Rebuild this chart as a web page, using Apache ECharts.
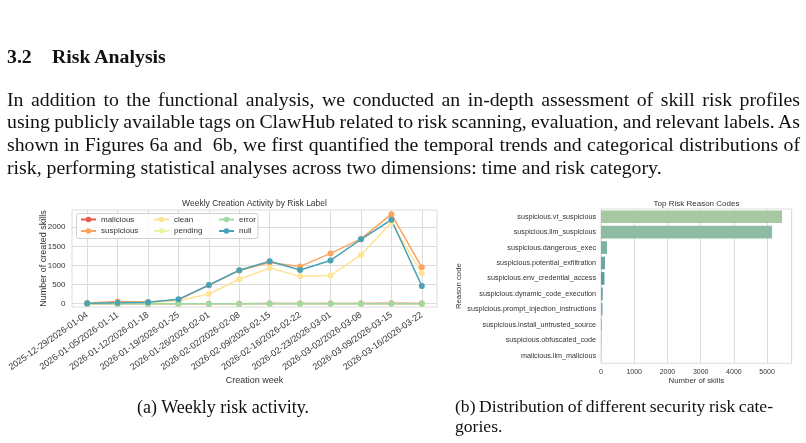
<!DOCTYPE html>
<html>
<head>
<meta charset="utf-8">
<title>Risk Analysis</title>
<script src="https://cdn.jsdelivr.net/npm/echarts@6/dist/echarts.min.js"></script>
<style>
	body{margin:0;background:#fff;}
	#page{position:relative;width:806px;height:443px;overflow:hidden;}
	#charts{position:absolute;left:0;top:0;width:806px;height:443px;}
	.serif{position:absolute;font-family:"Liberation Serif","Times New Roman",serif;color:#111;}
	.head{left:7px;top:45px;font-size:19.8px;font-weight:bold;}
	.head span{display:inline-block;width:45px;}
	.para{left:7px;top:87.5px;width:793px;font-size:19.8px;line-height:22.7px;}
	.para div{text-align:justify;text-align-last:justify;white-space:nowrap;word-spacing:-2.5px;}
	.para div.last{text-align-last:left;word-spacing:0;}
	.capA{left:137px;top:397px;font-size:18px;}
	.capB{left:455px;top:397px;width:318px;font-size:17.6px;line-height:19.5px;}
	.capB div{text-align:justify;text-align-last:justify;white-space:nowrap;word-spacing:-1px;}
	.capB div.last{text-align-last:left;word-spacing:0;}
</style>
</head>
<body>
<div id="page">
	<div id="charts"></div>
	<div class="serif head"><span>3.2</span>Risk Analysis</div>
	<div class="serif para">
		<div>In addition to the functional analysis, we conducted an in-depth assessment of skill risk profiles</div>
		<div>using publicly available tags on ClawHub related to risk scanning, evaluation, and relevant labels. As</div>
		<div>shown in Figures 6a and&nbsp; 6b, we first quantified the temporal trends and categorical distributions of</div>
		<div class="last">risk, performing statistical analyses across two dimensions: time and risk category.</div>
	</div>
	<div class="serif capA">(a) Weekly risk activity.</div>
	<div class="serif capB">
		<div>(b) Distribution of different security risk cate-</div>
		<div class="last">gories.</div>
	</div>
</div>
<script>
//周标签
var weeks = ['2025-12-29/2026-01-04', '2026-01-05/2026-01-11', '2026-01-12/2026-01-18', '2026-01-19/2026-01-25',
	'2026-01-26/2026-02-01', '2026-02-02/2026-02-08', '2026-02-09/2026-02-15', '2026-02-16/2026-02-22',
	'2026-02-23/2026-03-01', '2026-03-02/2026-03-08', '2026-03-09/2026-03-15', '2026-03-16/2026-03-22'];
//各风险标签每周数量
var malicious  = [0, 0, 0, 0, 1, 2, 3, 4, 5, 8, 15, 6];
var suspicious = [20, 60, 45, 100, 480, 870, 1075, 975, 1315, 1695, 2340, 950];
var clean      = [8, 20, 30, 80, 255, 640, 935, 715, 735, 1275, 2120, 795];
var pending    = [0, 0, 0, 0, 1, 1, 2, 2, 1, 2, 3, 1];
var errorCnt   = [0, 0, 0, 0, 0, 0, 0, 0, 0, 0, 0, 0];
var nullCnt    = [10, 25, 40, 115, 490, 875, 1110, 880, 1130, 1685, 2195, 465];
var yTicks = [0, 500, 1000, 1500, 2000];

//风险原因
var reasons = ['suspicious.vt_suspicious', 'suspicious.llm_suspicious', 'suspicious.dangerous_exec',
	'suspicious.potential_exfiltration', 'suspicious.env_credential_access', 'suspicious.dynamic_code_execution',
	'suspicious.prompt_injection_instructions', 'suspicious.install_untrusted_source',
	'suspicious.obfuscated_code', 'malicious.llm_malicious'];
var reasonCounts = [5450, 5150, 180, 120, 105, 55, 50, 15, 5, 2];

var lineColors = ['#e65a4c', '#fca560', '#fee497', '#eaf6a6', '#a2d9a2', '#4aa2b4'];
var barColors = ['#a7c9a1', '#8dbba3', '#7db3a3', '#6ba8a1', '#5c9ea0', '#6fa6ad', '#84aebd', '#6d8fae', '#6f86a8', '#6f7ca2'];

var font = 'Liberation Sans, Arial, sans-serif';
var gridColor = '#dcdcdc';
var textColor = '#333';

var myChart = echarts.init(document.getElementById('charts'));

//数字不带千分位
function plainNum(v){
	return String(v);
}

function lineSeries(name, data, color){
	return {
		name: name,
		type: 'line',
		xAxisIndex: 0,
		yAxisIndex: 0,
		data: data,
		symbol: 'circle',
		symbolSize: 6,
		color: color,
		lineStyle: {width: 1.5, color: color},
		itemStyle: {color: color},
		z: 2
	};
}

function legendCol(left, names){
	return {
		orient: 'vertical',
		left: left,
		top: 215.5,
		itemGap: 3.5,
		itemWidth: 15,
		itemHeight: 7,
		padding: 0,
		textStyle: {fontSize: 8, color: textColor, fontFamily: font},
		data: names
	};
}

var option = {
	animation: false,
	textStyle: {fontFamily: font},
	title: [{
		text: 'Weekly Creation Activity by Risk Label',
		left: 254.5, top: 199, textAlign: 'center', padding: 0,
		textStyle: {fontSize: 8.5, fontWeight: 'normal', color: textColor, fontFamily: font}
	}, {
		text: 'Top Risk Reason Codes',
		left: 696.5, top: 200, textAlign: 'center', padding: 0,
		textStyle: {fontSize: 8, fontWeight: 'normal', color: textColor, fontFamily: font}
	}],
	legend: [
		legendCol(80, ['malicious', 'suspicious']),
		legendCol(153, ['clean', 'pending']),
		legendCol(218, ['error', 'null'])
	],
	graphic: [{
		type: 'rect',
		shape: {x: 76.5, y: 213.5, width: 181.5, height: 25, r: 2},
		style: {fill: 'rgba(255,255,255,0.85)', stroke: '#d0d0d0', lineWidth: 1},
		z: 3
	}],
	grid: [{
		left: 72, top: 210, width: 365, height: 97,
		show: true, borderColor: gridColor, borderWidth: 1, backgroundColor: '#fff'
	}, {
		left: 601, top: 209, width: 190.7, height: 154.3,
		show: true, borderColor: gridColor, borderWidth: 1, backgroundColor: '#fff'
	}],
	xAxis: [{
		gridIndex: 0,
		type: 'category',
		data: weeks,
		boundaryGap: true,
		name: 'Creation week',
		nameLocation: 'middle',
		nameGap: 69,
		nameMoveOverlap: false,
		nameTextStyle: {fontSize: 9, color: textColor},
		axisLine: {show: false},
		axisTick: {show: false, alignWithLabel: true},
		axisLabel: {rotate: 35, fontSize: 9, color: textColor, margin: 7, interval: 0},
		splitLine: {show: true, alignWithLabel: true, lineStyle: {color: gridColor, width: 1}}
	}, {
		gridIndex: 1,
		type: 'value',
		min: 0,
		max: 5740,
		interval: 1000,
		name: 'Number of skills',
		nameLocation: 'middle',
		nameGap: 14,
		nameMoveOverlap: false,
		nameTextStyle: {fontSize: 7.8, color: textColor},
		axisLine: {show: false},
		axisTick: {show: false},
		axisLabel: {fontSize: 7, color: textColor, margin: 5.5, showMaxLabel: false, formatter: plainNum},
		splitLine: {show: true, lineStyle: {color: gridColor, width: 1}}
	}],
	yAxis: [{
		gridIndex: 0,
		type: 'value',
		min: -86,
		max: 2450,
		name: 'Number of created skills',
		nameLocation: 'middle',
		nameGap: 24,
		nameMoveOverlap: false,
		nameTextStyle: {fontSize: 9, color: textColor},
		axisLine: {show: false},
		axisTick: {show: false, customValues: yTicks},
		axisLabel: {fontSize: 8, color: textColor, margin: 6.5, customValues: yTicks, formatter: plainNum},
		splitLine: {show: true, lineStyle: {color: gridColor, width: 1}}
	}, {
		gridIndex: 1,
		type: 'category',
		data: reasons,
		inverse: true,
		name: 'Reason code',
		nameLocation: 'middle',
		nameGap: 138,
		nameMoveOverlap: false,
		nameTextStyle: {fontSize: 7.8, color: textColor},
		axisLine: {show: false},
		axisTick: {show: false},
		axisLabel: {fontSize: 7.2, color: textColor, margin: 5, interval: 0},
		splitLine: {show: false}
	}],
	series: [
		lineSeries('malicious', malicious, lineColors[0]),
		lineSeries('suspicious', suspicious, lineColors[1]),
		lineSeries('clean', clean, lineColors[2]),
		lineSeries('pending', pending, lineColors[3]),
		lineSeries('error', errorCnt, lineColors[4]),
		lineSeries('null', nullCnt, lineColors[5]),
		{
			name: 'reasons',
			type: 'bar',
			xAxisIndex: 1,
			yAxisIndex: 1,
			barCategoryGap: '18%',
			data: reasonCounts.map(function(v, i){
				return {value: v, itemStyle: {color: barColors[i]}};
			})
		}
	]
};

myChart.setOption(option);
</script>
</body>
</html>
